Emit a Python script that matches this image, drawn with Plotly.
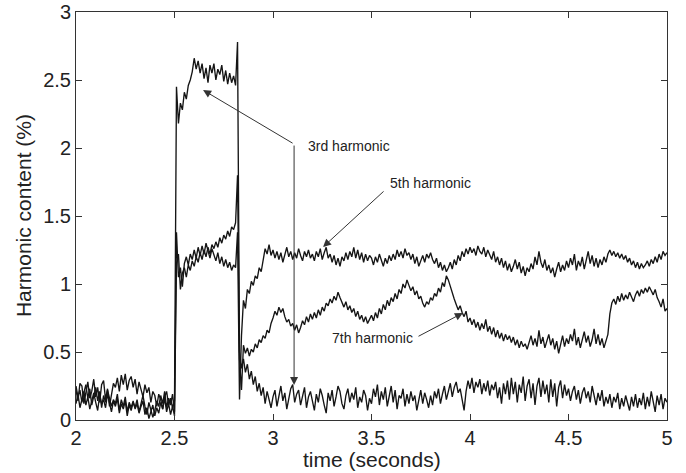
import plotly.graph_objects as go

# time axis: 2.00 .. 5.00 s in 0.01 s steps
t_start = 2.0
t_step = 0.01

h3 = [
    0.22, 0.14, 0.27, 0.25, 0.12, 0.19, 0.28, 0.16, 0.21, 0.30,
    0.17, 0.24, 0.13, 0.26, 0.29, 0.15, 0.23, 0.10, 0.20, 0.27,
    0.24, 0.31, 0.21, 0.33, 0.26, 0.34, 0.22, 0.29, 0.32, 0.24,
    0.30, 0.19, 0.28, 0.23, 0.17, 0.26, 0.20, 0.24, 0.13, 0.21,
    0.18, 0.10, 0.19, 0.15, 0.08, 0.17, 0.21, 0.11, 0.16, 0.09,
    0.14, 2.45, 2.18, 2.33, 2.28, 2.41, 2.36, 2.46, 2.50, 2.56,
    2.66, 2.58, 2.64, 2.55, 2.62, 2.51, 2.59, 2.48, 2.61, 2.55,
    2.62, 2.50, 2.58, 2.54, 2.61, 2.49, 2.57, 2.47, 2.55, 2.48,
    2.53, 2.46, 2.78, 0.50, 0.38, 0.45, 0.35, 0.41, 0.30, 0.36,
    0.26, 0.32, 0.21, 0.27, 0.18, 0.24, 0.12, 0.21, 0.15, 0.09,
    0.17, 0.22, 0.10, 0.18, 0.25, 0.14, 0.20, 0.08, 0.16, 0.23,
    0.26, 0.13, 0.19, 0.22, 0.11, 0.18, 0.24, 0.09, 0.17, 0.21,
    0.15, 0.07, 0.19, 0.13, 0.23, 0.18, 0.11, 0.05, 0.20, 0.14,
    0.22, 0.10, 0.17, 0.25, 0.21, 0.12, 0.08, 0.18, 0.23, 0.13,
    0.20, 0.15, 0.24, 0.09, 0.17, 0.13, 0.22, 0.18, 0.07, 0.16,
    0.12, 0.23, 0.17, 0.26, 0.11, 0.21, 0.15, 0.24, 0.10, 0.19,
    0.25, 0.13, 0.22, 0.08, 0.18, 0.16, 0.23, 0.10, 0.19, 0.12,
    0.21, 0.14, 0.18, 0.07, 0.15, 0.22, 0.12, 0.20, 0.15, 0.09,
    0.18, 0.11, 0.21, 0.16, 0.23, 0.12, 0.19, 0.25, 0.15, 0.22,
    0.27, 0.17, 0.24, 0.28, 0.20, 0.23, 0.15, 0.07, 0.21, 0.29,
    0.23, 0.31, 0.20, 0.28, 0.24, 0.30, 0.19, 0.27, 0.21, 0.29,
    0.18, 0.26, 0.22, 0.28, 0.16, 0.24, 0.12, 0.27, 0.19, 0.29,
    0.15, 0.31, 0.19, 0.28, 0.13, 0.26, 0.20, 0.32, 0.14, 0.25,
    0.30, 0.16, 0.27, 0.11, 0.25, 0.31, 0.17, 0.29, 0.19, 0.26,
    0.13, 0.30, 0.17, 0.27, 0.10, 0.24, 0.29, 0.16, 0.26, 0.18,
    0.23, 0.14, 0.21, 0.25, 0.15, 0.22, 0.12, 0.20, 0.24, 0.16,
    0.21, 0.13, 0.25, 0.18, 0.11, 0.20, 0.14, 0.22, 0.10, 0.17,
    0.12, 0.19, 0.09, 0.17, 0.13, 0.20, 0.08, 0.16, 0.10, 0.18,
    0.13, 0.07, 0.17, 0.10, 0.19, 0.09, 0.16, 0.11, 0.20, 0.08,
    0.17, 0.10, 0.21, 0.12, 0.06, 0.18, 0.11, 0.19, 0.08, 0.16,
    0.13,
]

h5 = [
    0.12, 0.19, 0.09, 0.16, 0.21, 0.11, 0.17, 0.08, 0.14, 0.20,
    0.13, 0.07, 0.18, 0.12, 0.15, 0.09, 0.19, 0.11, 0.06, 0.14,
    0.10, 0.16, 0.05, 0.12, 0.08, 0.14, 0.03, 0.11, 0.07, 0.13,
    0.09, 0.15, 0.06, 0.12, 0.18, 0.10, 0.04, 0.13, 0.08, 0.02,
    0.07, 0.14, 0.10, 0.18, 0.12, 0.21, 0.09, 0.16, 0.11, 0.19,
    0.06, 1.38, 1.05, 1.12, 0.98, 1.15, 1.20, 1.14, 1.22, 1.18,
    1.25, 1.19, 1.27, 1.21, 1.28, 1.22, 1.30, 1.24, 1.19, 1.26,
    1.21, 1.17, 1.23, 1.15, 1.20, 1.13, 1.18, 1.12, 1.16, 1.10,
    1.14, 1.12, 1.38, 0.15, 0.62, 0.88, 0.82, 0.96, 0.93, 1.02,
    0.99, 1.06, 1.04, 1.12, 1.09, 1.18, 1.26, 1.22, 1.29, 1.21,
    1.25, 1.19, 1.24, 1.18, 1.23, 1.16, 1.22, 1.27, 1.20, 1.24,
    1.18, 1.23, 1.19, 1.26, 1.21, 1.17, 1.24, 1.20, 1.25, 1.19,
    1.22, 1.17, 1.24, 1.20, 1.26, 1.18, 1.23, 1.27, 1.19, 1.22,
    1.16, 1.21, 1.14, 1.19, 1.13, 1.20, 1.17, 1.23, 1.18, 1.24,
    1.20, 1.27, 1.19, 1.25, 1.18, 1.23, 1.16, 1.22, 1.17, 1.21,
    1.19, 1.14, 1.20, 1.16, 1.22, 1.18, 1.13, 1.19, 1.15, 1.21,
    1.17, 1.22, 1.18, 1.25, 1.20, 1.24, 1.19, 1.26, 1.21, 1.23,
    1.18, 1.22, 1.15, 1.20, 1.13, 1.17, 1.21, 1.16, 1.22, 1.19,
    1.23, 1.18, 1.15, 1.19, 1.12, 1.16, 1.10, 1.14, 1.09, 1.12,
    1.16, 1.11, 1.18, 1.14, 1.21, 1.17, 1.24, 1.20, 1.26, 1.22,
    1.27, 1.23, 1.26, 1.21, 1.28, 1.24, 1.22, 1.27, 1.20, 1.25,
    1.21, 1.18, 1.24, 1.16, 1.20, 1.14, 1.19, 1.12, 1.17, 1.10,
    1.15, 1.09, 1.13, 1.18, 1.11, 1.16, 1.08, 1.13, 1.06, 1.12,
    1.09, 1.15, 1.11, 1.20, 1.14, 1.24, 1.16, 1.12, 1.18, 1.10,
    1.14, 1.08, 1.12, 1.05, 1.11, 1.16, 1.09, 1.14, 1.10, 1.17,
    1.12, 1.19, 1.14, 1.22, 1.10, 1.17, 1.13, 1.20, 1.11, 1.18,
    1.24, 1.15, 1.21, 1.13, 1.19, 1.12, 1.18, 1.14, 1.20, 1.16,
    1.22, 1.25, 1.21, 1.24, 1.20, 1.23, 1.19, 1.22, 1.18, 1.21,
    1.16, 1.19, 1.14, 1.17, 1.12, 1.16, 1.11, 1.15, 1.12, 1.14,
    1.17, 1.13, 1.18, 1.15, 1.20, 1.16, 1.22, 1.18, 1.24, 1.21,
    1.23,
]

h7 = [
    0.25, 0.17, 0.22, 0.13, 0.20, 0.26, 0.16, 0.23, 0.11, 0.19,
    0.24, 0.14, 0.21, 0.09, 0.18, 0.13, 0.22, 0.16, 0.10, 0.15,
    0.12, 0.19, 0.07, 0.15, 0.10, 0.17, 0.06, 0.13, 0.09, 0.14,
    0.08, 0.12, 0.05, 0.10, 0.14, 0.04, 0.09, 0.01, 0.07, 0.11,
    0.03, 0.09, 0.05, 0.13, 0.08, 0.16, 0.06, 0.12, 0.04, 0.10,
    0.03, 1.15, 1.22, 0.96, 1.08, 1.12, 1.05, 1.14, 1.10, 1.17,
    1.13, 1.20, 1.16, 1.23, 1.18, 1.25, 1.20, 1.27, 1.22, 1.29,
    1.26, 1.31, 1.27, 1.34, 1.30, 1.36, 1.33, 1.39, 1.35, 1.42,
    1.40, 1.45, 1.80, 0.45, 0.22, 0.55, 0.49, 0.53, 0.47, 0.52,
    0.50, 0.56, 0.53, 0.59, 0.57, 0.62, 0.60, 0.66, 0.64, 0.71,
    0.75, 0.80, 0.77, 0.83, 0.79, 0.82, 0.76, 0.72, 0.74, 0.69,
    0.71, 0.66, 0.70, 0.64, 0.68, 0.73, 0.70, 0.76, 0.72, 0.78,
    0.74, 0.79, 0.75, 0.81, 0.77, 0.83, 0.80, 0.86, 0.84, 0.89,
    0.86, 0.91, 0.88, 0.94, 0.90, 0.86, 0.83, 0.87, 0.81, 0.84,
    0.79, 0.82, 0.76, 0.80, 0.74, 0.77, 0.72, 0.76, 0.71, 0.74,
    0.77, 0.73, 0.79, 0.75, 0.82, 0.78, 0.85, 0.81, 0.88, 0.84,
    0.90, 0.87, 0.93, 0.89, 0.96, 0.93, 1.00, 0.97, 1.03, 0.99,
    0.95, 0.98, 0.92, 0.95, 0.89, 0.91, 0.86, 0.83, 0.87, 0.85,
    0.90, 0.88, 0.93, 0.91, 0.97, 0.94, 1.01, 0.98, 1.06, 1.03,
    0.98, 0.93, 0.89, 0.85, 0.81, 0.84, 0.79, 0.76, 0.80, 0.72,
    0.75, 0.70, 0.74, 0.68, 0.72, 0.66, 0.71, 0.67, 0.74, 0.65,
    0.69, 0.63, 0.68, 0.61, 0.66, 0.60, 0.64, 0.58, 0.63, 0.59,
    0.62, 0.57, 0.61, 0.55, 0.59, 0.53, 0.58, 0.54, 0.56, 0.52,
    0.57, 0.62, 0.55, 0.60, 0.54, 0.66, 0.56, 0.61, 0.53, 0.59,
    0.63, 0.55, 0.60, 0.52, 0.58, 0.49, 0.57, 0.62, 0.54, 0.60,
    0.56, 0.63, 0.58, 0.67, 0.55, 0.61, 0.53, 0.60, 0.65, 0.57,
    0.62, 0.54, 0.59, 0.67, 0.56, 0.63, 0.55, 0.60, 0.53, 0.58,
    0.63, 0.78, 0.86, 0.89, 0.85, 0.91, 0.87, 0.93, 0.88, 0.92,
    0.89, 0.94, 0.90, 0.87, 0.92, 0.95, 0.91, 0.96, 0.93, 0.97,
    0.94, 0.98, 0.95, 0.92, 0.96, 0.90, 0.87, 0.83, 0.89, 0.80,
    0.82,
]

t = [round(t_start + i * t_step, 2) for i in range(len(h3))]

x_ticks = [2, 2.5, 3, 3.5, 4, 4.5, 5]
x_tick_text = ["2", "2.5", "3", "3.5", "4", "4.5", "5"]
y_ticks = [0, 0.5, 1, 1.5, 2, 2.5, 3]
y_tick_text = ["0", "0.5", "1", "1.5", "2", "2.5", "3"]

FONT = "Liberation Sans, Arial, Helvetica, sans-serif"
LINE = "#151515"
TXT = "#222222"
AX = "#333333"

fig = go.Figure()
for name, ys in [("3rd harmonic", h3), ("5th harmonic", h5), ("7th harmonic", h7)]:
    fig.add_trace(go.Scatter(x=t, y=ys, mode="lines", name=name,
                             line=dict(color=LINE, width=1.35), showlegend=False,
                             hoverinfo="x+y"))

ann = []
# arrows (text-less), tail -> tip in data coordinates
arrows = [
    ((3.107, 2.029), (2.645, 2.426)),
    ((3.107, 2.029), (3.107, 0.257)),
    ((3.569, 1.691), (3.254, 1.272)),
    ((3.731, 0.610), (3.964, 0.787)),
]
for (ax_, ay_), (x_, y_) in arrows:
    ann.append(dict(x=x_, y=y_, ax=ax_, ay=ay_, xref="x", yref="y",
                    axref="x", ayref="y", text="", showarrow=True,
                    arrowhead=2, arrowsize=1.6, arrowwidth=1,
                    arrowcolor=AX, standoff=0, startstandoff=0))
labels = [
    ("3rd harmonic", 3.165, 2.015),
    ("5th harmonic", 3.582, 1.743),
    ("7th harmonic", 3.287, 0.603),
]
for txt, lx, ly in labels:
    ann.append(dict(x=lx, y=ly, xref="x", yref="y", text=txt,
                    showarrow=False, xanchor="left", yanchor="middle",
                    font=dict(family=FONT, size=14, color=TXT)))

# axis titles placed as paper annotations
ann.append(dict(x=0.5, y=-0.097, xref="paper", yref="paper", text="time (seconds)",
                showarrow=False, xanchor="center", yanchor="middle",
                font=dict(family=FONT, size=21, color=TXT)))
ann.append(dict(x=-0.0895, y=0.5, xref="paper", yref="paper", text="Harmonic content (%)",
                showarrow=False, xanchor="center", yanchor="middle", textangle=-90,
                font=dict(family=FONT, size=21, color=TXT)))

fig.update_layout(
    width=686, height=473,
    margin=dict(l=76, r=19, t=12, b=53, autoexpand=False),
    paper_bgcolor="white", plot_bgcolor="white",
    font=dict(family=FONT, color=TXT),
    annotations=ann,
)
fig.update_xaxes(range=[2, 5], tickvals=x_ticks, ticktext=x_tick_text,
                 ticks="inside", ticklen=6, tickwidth=1, tickcolor=AX,
                 showline=True, linecolor=AX, linewidth=1, mirror="ticks",
                 showgrid=False, zeroline=False, automargin=False,
                 tickfont=dict(family=FONT, size=20, color=TXT))
fig.update_yaxes(range=[0, 3], tickvals=y_ticks, ticktext=y_tick_text,
                 ticks="inside", ticklen=6, tickwidth=1, tickcolor=AX,
                 showline=True, linecolor=AX, linewidth=1, mirror="ticks",
                 showgrid=False, zeroline=False, automargin=False,
                 tickfont=dict(family=FONT, size=20, color=TXT))

fig.write_html("out.html", config={"displayModeBar": False},
               post_script="document.body.style.margin='0';")
